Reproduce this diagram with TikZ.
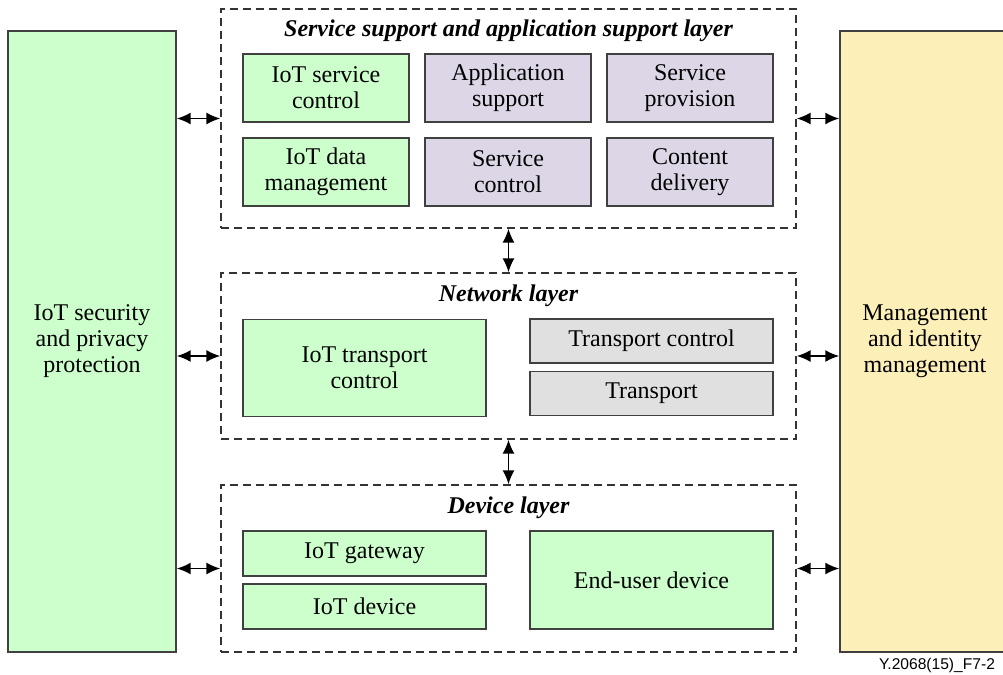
\documentclass[tikz,border=0pt]{standalone}
\usepackage{fontspec}
\setmainfont{Liberation Serif}
\setsansfont{Liberation Sans}
\usetikzlibrary{arrows.meta}

\definecolor{boxgreen}{HTML}{CCFFCC}
\definecolor{boxlilac}{HTML}{DCD6E6}
\definecolor{boxgrey}{HTML}{E0E0E0}
\definecolor{boxyellow}{HTML}{FCEFB8}
\definecolor{boxline}{HTML}{404040}

\tikzset{
    block/.style={draw=boxline, line width=0.7pt, align=center, inner sep=1pt,
        font=\fontsize{12}{13}\selectfont},
    layer/.style={draw=black!80, line width=0.6pt, dash pattern=on 4pt off 2.5pt},
    layertitle/.style={font=\fontsize{12}{13}\selectfont\bfseries\itshape},
    link/.style={{Latex[length=7pt,width=6pt]}-{Latex[length=7pt,width=6pt]}, line width=0.9pt}
}

\begin{document}
\begin{tikzpicture}[x=0.5pt, y=-0.5pt]
    \useasboundingbox (0,0) rectangle (1003,675);

    % side blocks
    \node [block, fill=boxgreen, minimum width=84pt, minimum height=310.5pt] (sec) at (92,341.5)
        {IoT security\\and privacy\\protection};
    \node [block, fill=boxyellow, minimum width=85pt, minimum height=310.5pt] (mgmt) at (925,341.5)
        {Management\\and identity\\management};

    % service support and application support layer
    \node [layer, minimum width=287.5pt, minimum height=109.5pt] (ssal) at (508.5,118.5) {};
    \node [layertitle] (ssaltitle) at (508.5,31) {Service support and application support layer};
    \node [block, fill=boxgreen, minimum width=83pt, minimum height=34pt] (svcctl) at (326,88) {IoT service\\control};
    \node [block, fill=boxlilac, minimum width=83pt, minimum height=34pt] (appsup) at (508,88) {Application\\support};
    \node [block, fill=boxlilac, minimum width=83pt, minimum height=34pt] (svcprov) at (690,88) {Service\\provision};
    \node [block, fill=boxgreen, minimum width=83pt, minimum height=34pt] (datamgmt) at (326,172) {IoT data\\management};
    \node [block, fill=boxlilac, minimum width=83pt, minimum height=34pt] (svcctl2) at (508,172) {Service\\control};
    \node [block, fill=boxlilac, minimum width=83pt, minimum height=34pt] (content) at (690,172) {Content\\delivery};

    % network layer
    \node [layer, minimum width=287.5pt, minimum height=83pt] (net) at (508.5,356) {};
    \node [layertitle] (nettitle) at (508.5,296) {Network layer};
    \node [block, fill=boxgreen, minimum width=121.5pt, minimum height=48.5pt] (transctl) at (364.5,368) {IoT transport\\control};
    \node [block, fill=boxgrey, minimum width=121.5pt, minimum height=22pt] (tctl) at (651.5,341) {Transport control};
    \node [block, fill=boxgrey, minimum width=121.5pt, minimum height=22pt] (trans) at (651.5,393.5) {Transport};

    % device layer
    \node [layer, minimum width=287.5pt, minimum height=83.5pt] (dev) at (508.5,568.5) {};
    \node [layertitle] (devtitle) at (508.5,508) {Device layer};
    \node [block, fill=boxgreen, minimum width=121.5pt, minimum height=22.5pt] (gw) at (364.5,553.5) {IoT gateway};
    \node [block, fill=boxgreen, minimum width=121.5pt, minimum height=22.5pt] (iotdev) at (364.5,606.5) {IoT device};
    \node [block, fill=boxgreen, minimum width=121.5pt, minimum height=49pt] (enduser) at (651.5,580) {End-user device};

    % links
    \draw [link] (sec.east |- ssal.west) -- (ssal.west);
    \draw [link] (sec.east |- net.west) -- (net.west);
    \draw [link] (sec.east |- dev.west) -- (dev.west);
    \draw [link] (ssal.east) -- (mgmt.west |- ssal.east);
    \draw [link] (net.east) -- (mgmt.west |- net.east);
    \draw [link] (dev.east) -- (mgmt.west |- dev.east);
    \draw [link] (ssal.south) -- (net.north);
    \draw [link] (net.south) -- (dev.north);

    \node [anchor=east, font=\sffamily\fontsize{7.8}{9}\selectfont] (figid) at (1002,665) {Y.2068(15)\_F7-2};
\end{tikzpicture}
\end{document}
